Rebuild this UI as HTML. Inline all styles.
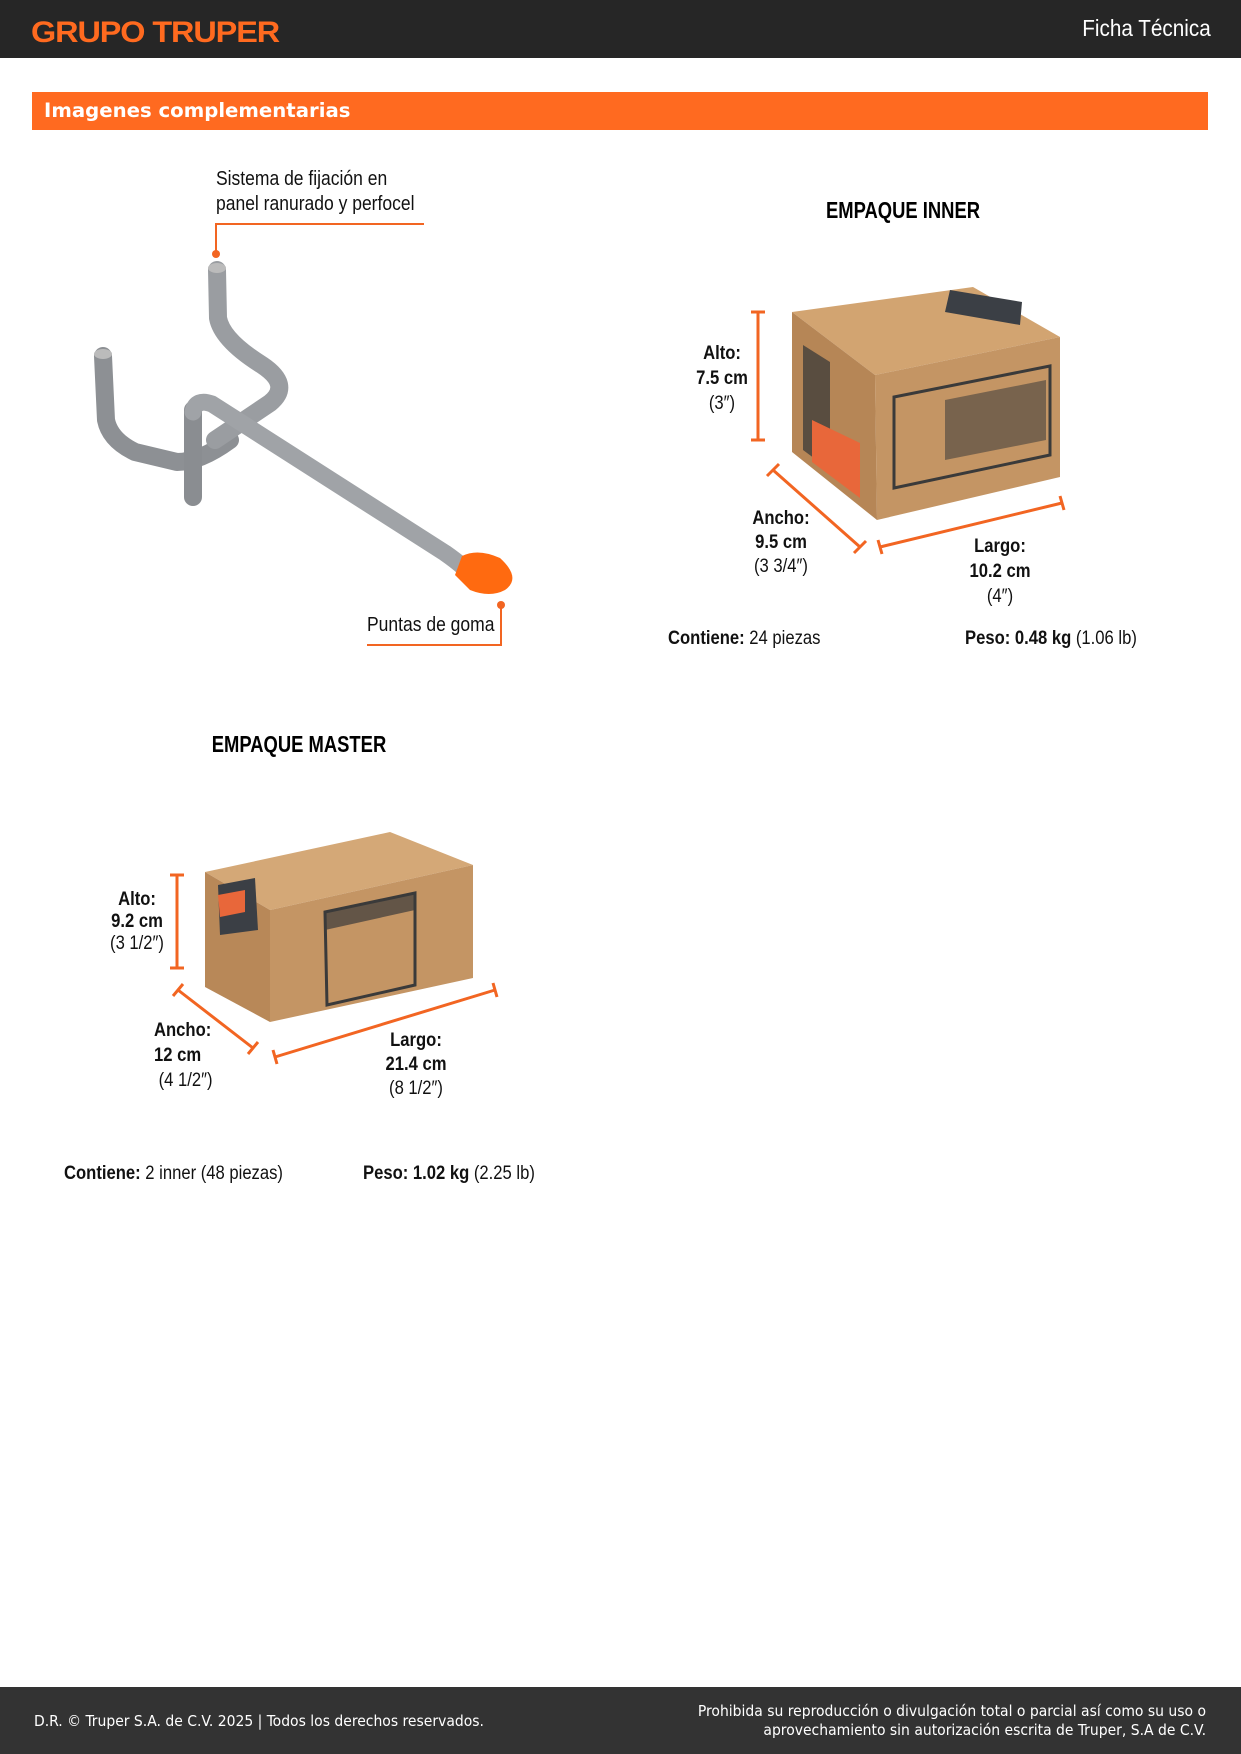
<!DOCTYPE html>
<html><head><meta charset="utf-8"><style>
body{margin:0;width:1241px;height:1754px;position:relative;background:#fff;font-family:"Liberation Sans",sans-serif;overflow:hidden}
.a{position:absolute;white-space:nowrap}
.n{font-size:19px;color:#111;transform:scaleX(.875);transform-origin:left top}
.b{font-weight:bold}
.c{text-align:center;transform:translateX(-50%) scaleX(.875);transform-origin:center top}
.h{font-size:23px;transform:translateX(-50%) scaleX(.8)}
</style></head><body>
<div class="a" style="left:0;top:0;width:1241px;height:58px;background:#262626"></div>
<div class="a b" style="left:31px;top:16px;font-size:30px;color:#ff6a1f;letter-spacing:-1px;transform:scaleX(1.08);transform-origin:left">GRUPO TRUPER</div>
<div class="a" style="right:30px;top:15px;font-size:23px;color:#fff;transform:scaleX(.9);transform-origin:right">Ficha Técnica</div>
<div class="a" style="left:32px;top:92px;width:1176px;height:38px;background:#ff6a20"></div>
<div class="a b" style="left:44px;top:99px;font-size:19.7px;color:#fff;font-family:'DejaVu Sans','Liberation Sans',sans-serif">Imagenes complementarias</div>

<svg class="a" style="left:0;top:0" width="1241" height="1754">
<g fill="none" stroke-linecap="round" stroke-linejoin="round">
<path d="M103,356 L106,420 Q110,440 135,452 L177,462 Q200,462 230,440" stroke="#8d9094" stroke-width="18"/>
<path d="M193,410 L193,497" stroke="#8a8d91" stroke-width="18"/>
<path d="M217,270 L218,318 Q222,340 262,365 Q292,385 270,403 L215,440" stroke="#9a9da1" stroke-width="18"/>
<path d="M193,412 Q196,398 212,404 L445,553 Q455,560 462,566" stroke="#a0a3a7" stroke-width="17"/>
</g>
<ellipse cx="217" cy="268" rx="9" ry="5" fill="#bbb"/>
<ellipse cx="103" cy="354" rx="9" ry="5" fill="#bbb"/>
<path d="M462,556 Q478,548 500,558 Q522,578 505,590 Q490,598 470,590 L455,575 Z" fill="#ff6a10"/>
<g stroke="#f26522" stroke-width="2" fill="none">
<path d="M216,254 L216,224 L424,224"/>
<path d="M501,605 L501,645 L367,645"/>
</g>
<circle cx="216" cy="254" r="4" fill="#f26522"/><circle cx="501" cy="605" r="4" fill="#f26522"/>

<polygon points="792,312 973,287 1060,337 875,375" fill="#d2a471"/>
<polygon points="875,375 1060,337 1060,477 877,520" fill="#c49564"/>
<polygon points="792,312 875,375 877,520 792,452" fill="#b68656"/>
<polygon points="894,397 1050,366 1050,455 894,488" fill="none" stroke="#3a3a3a" stroke-width="3"/>
<polygon points="945,400 1046,380 1046,440 945,460" fill="#3a3a3a" opacity=".55"/>
<polygon points="950,290 1022,302 1020,325 945,312" fill="#3b3f45"/>
<polygon points="803,345 830,362 830,470 803,450" fill="#3a3a3a" opacity=".75"/>
<polygon points="812,420 860,443 860,498 812,462" fill="#e8673a"/>
<polygon points="205,872 390,832 473,865 270,910" fill="#d4a877"/>
<polygon points="270,910 473,865 473,978 270,1022" fill="#c49564"/>
<polygon points="205,872 270,910 270,1022 205,987" fill="#b88858"/>
<polygon points="325,912 415,893 415,985 327,1005" fill="none" stroke="#3a3a3a" stroke-width="3"/>
<polygon points="325,912 415,893 415,910 325,930" fill="#3a3a3a" opacity=".7"/>
<polygon points="218,885 255,878 258,930 220,935" fill="#3b3f45"/>
<polygon points="218,895 245,890 245,912 220,917" fill="#e8673a"/>
<g stroke="#f26522" stroke-width="3" fill="none">
<path d="M758,312 L758,440 M751,312 L765,312 M751,440 L765,440"/>
<path d="M773,470 L860,547 M767,476 L779,464 M854,553 L866,541"/>
<path d="M880,547 L1062,503 M878,540 L882,554 M1060,496 L1064,510"/>
<path d="M177,875 L177,968 M170,875 L184,875 M170,968 L184,968"/>
<path d="M178,990 L253,1048 M173,996 L183,984 M248,1054 L258,1042"/>
<path d="M275,1057 L495,990 M273,1050 L277,1064 M493,983 L497,997"/>
</g>
</svg>

<div class="a n" style="left:216px;top:168px;font-size:20px">Sistema de fijación en</div>
<div class="a n" style="left:216px;top:193px;font-size:20px">panel ranurado y perfocel</div>
<div class="a n" style="left:367px;top:614px;font-size:20px">Puntas de goma</div>

<div class="a b c h" style="left:903px;top:197px">EMPAQUE INNER</div>
<div class="a n c" style="left:722px;top:341px;line-height:25px"><b>Alto:</b><br><b>7.5 cm</b><br>(3″)</div>
<div class="a n c" style="left:781px;top:507px;line-height:24px"><b>Ancho:</b><br><b>9.5 cm</b><br>(3 3/4″)</div>
<div class="a n c" style="left:1000px;top:534px;line-height:25px"><b>Largo:</b><br><b>10.2 cm</b><br>(4″)</div>
<div class="a n" style="left:668px;top:628px"><b>Contiene:</b> 24 piezas</div>
<div class="a n" style="left:965px;top:628px"><b>Peso: 0.48 kg</b> (1.06 lb)</div>

<div class="a b c h" style="left:299px;top:731px">EMPAQUE MASTER</div>
<div class="a n c" style="left:137px;top:889px;line-height:22px"><b>Alto:</b><br><b>9.2 cm</b><br>(3 1/2″)</div>
<div class="a n" style="left:154px;top:1018px;line-height:25px"><b>Ancho:</b><br><b>12 cm</b><br>&nbsp;(4 1/2″)</div>
<div class="a n c" style="left:416px;top:1029px;line-height:24px"><b>Largo:</b><br><b>21.4 cm</b><br>(8 1/2″)</div>
<div class="a n" style="left:64px;top:1163px"><b>Contiene:</b> 2 inner (48 piezas)</div>
<div class="a n" style="left:363px;top:1163px"><b>Peso: 1.02 kg</b> (2.25 lb)</div>

<div class="a" style="left:0;top:1687px;width:1241px;height:67px;background:#333"></div>
<div class="a" style="left:34px;top:1712px;font-size:15.5px;color:#fff;font-family:'DejaVu Sans Condensed','DejaVu Sans',sans-serif">D.R. © Truper S.A. de C.V. 2025 | Todos los derechos reservados.</div>
<div class="a" style="right:35px;top:1702px;font-size:15.5px;color:#fff;text-align:right;line-height:19px;font-family:'DejaVu Sans Condensed','DejaVu Sans',sans-serif">Prohibida su reproducción o divulgación total o parcial así como su uso o<br>aprovechamiento sin autorización escrita de Truper, S.A de C.V.</div>
</body></html>
